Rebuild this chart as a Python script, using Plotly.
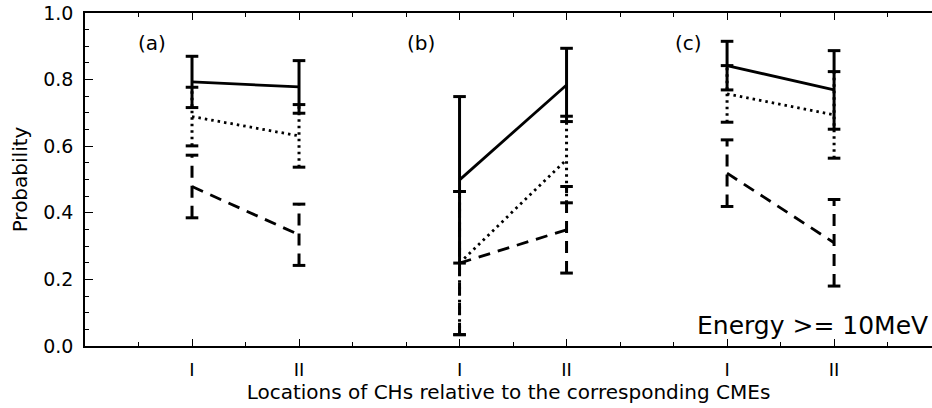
import plotly.graph_objects as go

# ---- data ----
positions = [2, 4, 7, 9, 12, 14]          # I, II for panels (a), (b), (c)
tick_text = ["I", "II", "I", "II", "I", "II"]
panel_labels = ["(a)", "(b)", "(c)"]
panel_label_x = [1.25, 6.28, 11.27]

solid_val = [0.793, 0.778, 0.499, 0.784, 0.842, 0.769]
solid_err = [0.077, 0.079, 0.250, 0.110, 0.073, 0.118]
dotted_val = [0.689, 0.631, 0.249, 0.560, 0.757, 0.694]
dotted_err = [0.088, 0.094, 0.215, 0.130, 0.085, 0.130]
dashed_val = [0.479, 0.334, 0.249, 0.349, 0.519, 0.310]
dashed_err = [0.094, 0.092, 0.215, 0.130, 0.100, 0.130]

FONT = "DejaVu Sans"
LW = 2.8

fig = go.Figure()


def add_series(vals, errs, dash):
    # connecting lines, one segment per panel
    lx, ly = [], []
    for k in range(0, len(positions), 2):
        lx += [positions[k], positions[k + 1], None]
        ly += [vals[k], vals[k + 1], None]
    fig.add_trace(go.Scatter(x=lx, y=ly, mode="lines",
                             line=dict(color="black", width=LW, dash=dash),
                             showlegend=False, hoverinfo="skip"))
    # error whiskers in same dash style
    wx, wy = [], []
    for p, v, e in zip(positions, vals, errs):
        wx += [p, p, None]
        wy += [v - e, v + e, None]
    fig.add_trace(go.Scatter(x=wx, y=wy, mode="lines",
                             line=dict(color="black", width=3, dash=dash),
                             showlegend=False, hoverinfo="skip"))
    # caps
    cx, cy = [], []
    for p, v, e in zip(positions, vals, errs):
        cx += [p, p]
        cy += [v - e, v + e]
    fig.add_trace(go.Scatter(x=cx, y=cy, mode="markers",
                             marker=dict(symbol="line-ew", size=9,
                                         line=dict(color="black", width=3)),
                             showlegend=False, hoverinfo="skip"))


add_series(dashed_val, dashed_err, "12px,8px")
add_series(dotted_val, dotted_err, "2.5px,4px")
add_series(solid_val, solid_err, "solid")

for lab, lx in zip(panel_labels, panel_label_x):
    fig.add_annotation(x=lx, y=0.911, text=lab, showarrow=False,
                       xref="x", yref="y", font=dict(family=FONT, size=20, color="black"))

fig.add_annotation(x=15.79, y=0.063, text="Energy >= 10MeV", showarrow=False,
                   xref="x", yref="y", xanchor="right",
                   font=dict(family=FONT, size=25, color="black"))

fig.update_layout(
    width=932, height=408,
    margin=dict(l=85, r=0, t=13, b=62),
    plot_bgcolor="white", paper_bgcolor="white",
    font=dict(family=FONT, size=19, color="black"),
    xaxis=dict(range=[0, 15.83], showgrid=False, zeroline=False,
               showline=True, linecolor="black", linewidth=1.5, mirror="ticks",
               tickmode="array", tickvals=positions, ticktext=tick_text,
               ticks="inside", ticklen=7, tickwidth=1.2, tickcolor="black",
               ticklabelstandoff=7, tickfont=dict(size=18),
               minor=dict(dtick=1, tick0=0, ticks="inside", ticklen=4,
                          tickwidth=1, tickcolor="black", showgrid=False),
               title=dict(text="Locations of CHs relative to the corresponding CMEs",
                          font=dict(family=FONT, size=20), standoff=6)),
    yaxis=dict(range=[0, 1.0], showgrid=False, zeroline=False,
               showline=True, linecolor="black", linewidth=1.5, mirror=False,
               tickmode="array", tickvals=[0, 0.2, 0.4, 0.6, 0.8, 1.0],
               tickformat=".1f", tickfont=dict(size=19),
               ticks="inside", ticklen=8, tickwidth=1.2, tickcolor="black",
               ticklabelstandoff=6,
               minor=dict(dtick=0.05, tick0=0, ticks="inside", ticklen=4,
                          tickwidth=1, tickcolor="black", showgrid=False),
               title=dict(text="Probability", font=dict(family=FONT, size=20),
                          standoff=10)),
)

fig.write_html("out.html")
